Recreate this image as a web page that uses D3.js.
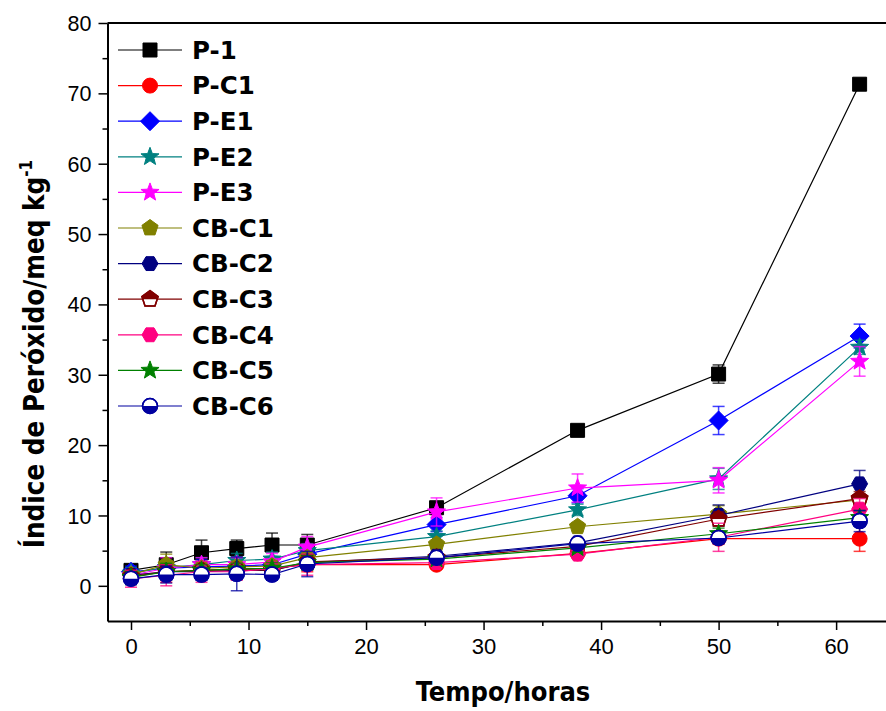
<!DOCTYPE html>
<html>
<head>
<meta charset="utf-8">
<script src="https://cdn.jsdelivr.net/npm/d3@7"></script>
<style>
  body { margin: 0; background: #fff; }
  svg { display: block; }
</style>
</head>
<body>
<div id="chart"></div>
<script>
const width = 886;
const height = 711;

// time points (hours)
const times = [0, 3, 6, 9, 12, 15, 26, 38, 50, 62];

const seriesNames = ["P-1", "P-C1", "P-E1", "P-E2", "P-E3", "CB-C1", "CB-C2", "CB-C3", "CB-C4", "CB-C5", "CB-C6"];

// peroxide index values per series
const valP1   = [2.2, 3.0, 4.7, 5.3, 5.8, 5.8, 11.1, 22.1, 30.1, 71.3];
const valPC1  = [1.5, 2.0, 2.2, 2.4, 2.5, 3.0, 3.0, 4.6, 6.7, 6.7];
const valPE1  = [2.0, 2.5, 2.7, 2.8, 3.0, 4.5, 8.7, 12.8, 23.5, 35.5];
const valPE2  = [1.8, 2.6, 3.0, 3.6, 3.8, 5.0, 7.0, 10.8, 15.2, 33.9];
const valPE3  = [1.5, 2.5, 3.0, 3.0, 3.4, 5.5, 10.5, 13.9, 15.0, 31.9];
const valCBC1 = [1.6, 3.0, 2.5, 2.7, 2.8, 4.0, 5.9, 8.4, 10.2, 12.2];
const valCBC2 = [1.5, 2.0, 2.0, 2.2, 2.2, 3.3, 4.2, 6.1, 10.0, 14.5];
const valCBC3 = [1.3, 2.0, 2.2, 2.3, 2.2, 3.4, 4.0, 5.6, 9.5, 12.4];
const valCBC4 = [1.0, 1.5, 2.0, 2.0, 2.5, 3.0, 3.3, 4.5, 6.9, 10.9];
const valCBC5 = [1.2, 2.0, 2.2, 2.4, 2.5, 3.3, 3.8, 5.4, 7.4, 9.7];
const valCBC6 = [1.0, 1.6, 1.6, 1.7, 1.6, 3.1, 4.0, 6.0, 6.8, 9.2];

// standard deviations
const errP1   = [0.8, 1.8, 1.8, 1.2, 1.7, 1.5, 0.8, 0.4, 1.3, 0.5];
const errPC1  = [1.0, 1.5, 1.2, 1.5, 0.8, 1.0, 0.5, 0.5, 0.8, 1.8];
const errPE1  = [0.8, 1.0, 1.0, 1.0, 1.0, 1.0, 1.0, 1.0, 2.0, 1.7];
const errPE2  = [0.8, 1.0, 1.0, 1.0, 1.0, 1.0, 0.8, 0.8, 1.5, 1.0];
const errPE3  = [0.8, 1.5, 1.0, 1.0, 1.2, 1.5, 2.0, 2.0, 1.8, 2.1];
const errCBC1 = [0.6, 1.5, 0.8, 0.8, 0.8, 0.8, 0.6, 0.6, 1.2, 0.8];
const errCBC2 = [0.6, 1.0, 0.8, 0.8, 0.8, 1.0, 0.6, 0.6, 1.5, 1.9];
const errCBC3 = [0.6, 1.0, 0.8, 0.8, 0.8, 1.0, 0.6, 0.6, 1.0, 1.0];
const errCBC4 = [1.2, 1.5, 1.5, 1.2, 0.8, 1.5, 0.6, 0.6, 2.0, 1.5];
const errCBC5 = [0.8, 1.2, 0.8, 0.8, 0.8, 1.0, 0.6, 0.6, 0.8, 1.0];
const errCBC6 = [0.8, 1.2, 0.8, 2.4, 0.8, 1.8, 0.6, 0.6, 0.8, 1.5];

const xTicks = [0, 10, 20, 30, 40, 50, 60];
const yTicks = [0, 10, 20, 30, 40, 50, 60, 70, 80];

const seriesValues = [valP1, valPC1, valPE1, valPE2, valPE3, valCBC1, valCBC2, valCBC3, valCBC4, valCBC5, valCBC6];
const seriesErrors = [errP1, errPC1, errPE1, errPE2, errPE3, errCBC1, errCBC2, errCBC3, errCBC4, errCBC5, errCBC6];

// style per series: colour and symbol
const styles = [
    { color: "#000000", symbol: "square" },
    { color: "#FF0000", symbol: "circle" },
    { color: "#0000FF", symbol: "diamond" },
    { color: "#008080", symbol: "star" },
    { color: "#FF00FF", symbol: "star" },
    { color: "#808000", symbol: "pentagon" },
    { color: "#000080", symbol: "hexagon" },
    { color: "#800000", symbol: "pentagon", half: "top" },
    { color: "#FF0080", symbol: "hexagon" },
    { color: "#008000", symbol: "star" },
    { color: "#0000A0", symbol: "circle", half: "bottom" }
];

const series = seriesNames.map((name, i) => ({
    name,
    ...styles[i],
    points: times.map((t, j) => ({ t, v: seriesValues[i][j], e: seriesErrors[i][j] }))
}));

const margin = { left: 107.5, top: 23, right: 889, bottom: 621 };

const x = d3.scaleLinear().domain([-2, 64.5]).range([margin.left, margin.right]);
const y = d3.scaleLinear().domain([-5, 80]).range([margin.bottom, margin.top]);

const svg = d3.select("#chart").append("svg")
    .attr("width", width)
    .attr("height", height);

// symbol paths in local coordinates
function polygon(n, r, rot) {
    const pts = d3.range(n).map(k => {
        const a = rot + k * 2 * Math.PI / n;
        return [r * Math.cos(a), r * Math.sin(a)];
    });
    return "M" + pts.map(p => p.join(",")).join("L") + "Z";
}
function star(rOut, rIn) {
    const pts = d3.range(10).map(k => {
        const a = -Math.PI / 2 + k * Math.PI / 5;
        const r = k % 2 === 0 ? rOut : rIn;
        return [r * Math.cos(a), r * Math.sin(a)];
    });
    return "M" + pts.map(p => p.join(",")).join("L") + "Z";
}
const symbolPath = {
    square: "M-7,-7L7,-7L7,7L-7,7Z",
    circle: d3.arc()({ innerRadius: 0, outerRadius: 7.5, startAngle: 0, endAngle: 2 * Math.PI }),
    diamond: "M0,-9.5L9.5,0L0,9.5L-9.5,0Z",
    star: star(9.5, 4),
    pentagon: polygon(5, 8.5, -Math.PI / 2),
    hexagon: polygon(6, 8, 0)
};

const defs = svg.append("defs");
defs.append("clipPath").attr("id", "half-top")
    .append("rect").attr("x", -12).attr("y", -12).attr("width", 24).attr("height", 12);
defs.append("clipPath").attr("id", "half-bottom")
    .append("rect").attr("x", -12).attr("y", 0).attr("width", 24).attr("height", 12);

function drawMarker(g, s) {
    const d = symbolPath[s.symbol];
    if (s.half) {
        g.append("path").attr("d", d).attr("fill", "#fff")
            .attr("stroke", s.color).attr("stroke-width", 1.5);
        g.append("path").attr("d", d).attr("fill", s.color)
            .attr("clip-path", `url(#half-${s.half})`);
        g.append("path").attr("d", d).attr("fill", "none")
            .attr("stroke", s.color).attr("stroke-width", 1.5);
    } else {
        g.append("path").attr("d", d).attr("fill", s.color)
            .attr("stroke", s.color).attr("stroke-width", 1);
    }
}

const plot = svg.append("g").attr("class", "plot");

const line = d3.line().x(d => x(d.t)).y(d => y(d.v));

// each series: line, error bars, symbols
series.forEach(s => {
    const g = plot.append("g").attr("class", "series");

    g.append("path")
        .datum(s.points)
        .attr("d", line)
        .attr("fill", "none")
        .attr("stroke", s.color)
        .attr("stroke-width", 1.2);

    const eb = g.selectAll(".err").data(s.points).enter().append("g")
        .attr("class", "err")
        .attr("stroke", s.color)
        .attr("stroke-opacity", 0.75)
        .attr("stroke-width", 1.5);
    eb.append("line")
        .attr("x1", d => x(d.t)).attr("x2", d => x(d.t))
        .attr("y1", d => y(d.v + d.e)).attr("y2", d => y(d.v - d.e));
    eb.append("line")
        .attr("x1", d => x(d.t) - 6).attr("x2", d => x(d.t) + 6)
        .attr("y1", d => y(d.v + d.e)).attr("y2", d => y(d.v + d.e));
    eb.append("line")
        .attr("x1", d => x(d.t) - 6).attr("x2", d => x(d.t) + 6)
        .attr("y1", d => y(d.v - d.e)).attr("y2", d => y(d.v - d.e));

    g.selectAll(".mk").data(s.points).enter().append("g")
        .attr("class", "mk")
        .attr("transform", d => `translate(${x(d.t)},${y(d.v)})`)
        .each(function () { drawMarker(d3.select(this), s); });
});

// frame: left and bottom axes, top border
svg.append("line")
    .attr("x1", margin.left).attr("x2", margin.right)
    .attr("y1", margin.top).attr("y2", margin.top)
    .attr("stroke", "#000").attr("stroke-width", 2);

const xAxis = svg.append("g")
    .attr("transform", `translate(0,${margin.bottom})`)
    .call(d3.axisBottom(x).tickValues(xTicks).tickSize(9).tickSizeOuter(0).tickPadding(8));
svg.append("g")
    .attr("transform", `translate(0,${margin.bottom})`)
    .call(d3.axisBottom(x).tickValues([5, 15, 25, 35, 45, 55]).tickSize(5).tickFormat("").tickSizeOuter(0))
    .call(g => g.select(".domain").remove());

const yAxis = svg.append("g")
    .attr("transform", `translate(${margin.left},0)`)
    .call(d3.axisLeft(y).tickValues(yTicks).tickSize(9).tickSizeOuter(0).tickPadding(7));
svg.append("g")
    .attr("transform", `translate(${margin.left},0)`)
    .call(d3.axisLeft(y).tickValues([5, 15, 25, 35, 45, 55, 65, 75]).tickSize(5).tickFormat("").tickSizeOuter(0))
    .call(g => g.select(".domain").remove());

svg.selectAll(".domain").attr("stroke", "#000").attr("stroke-width", 2);
svg.selectAll(".tick line").attr("stroke", "#000").attr("stroke-width", 1.5);

xAxis.selectAll("text")
    .style("font-family", "'Liberation Sans Narrow', 'Liberation Sans', Arial, sans-serif")
    .style("font-size", "22px")
    .attr("fill", "#000");
yAxis.selectAll("text")
    .style("font-family", "'Liberation Sans', Arial, sans-serif")
    .style("font-size", "21.5px")
    .attr("dy", "0.35em")
    .attr("fill", "#000");

// axis titles
svg.append("text")
    .attr("x", 503).attr("y", 701)
    .attr("text-anchor", "middle")
    .style("font-family", "'DejaVu Sans Condensed', 'DejaVu Sans', sans-serif")
    .style("font-weight", "bold")
    .style("font-size", "27px")
    .text("Tempo/horas");

const yTitle = svg.append("text")
    .attr("transform", "translate(44,354) rotate(-90)")
    .attr("text-anchor", "middle")
    .style("font-family", "'DejaVu Sans Condensed', 'DejaVu Sans', sans-serif")
    .style("font-weight", "bold")
    .style("font-size", "27.5px");
yTitle.append("tspan").text("Índice de Peróxido/meq kg");
yTitle.append("tspan").attr("dy", -12).style("font-size", "17px").text("-1");

// legend
const legend = svg.append("g").attr("class", "legend");
series.forEach((s, i) => {
    const ly = 50 + i * 35.6;
    const row = legend.append("g").attr("transform", `translate(0,${ly})`);
    row.append("line")
        .attr("x1", 118).attr("x2", 182)
        .attr("stroke", s.color).attr("stroke-width", 1.2);
    drawMarker(row.append("g").attr("transform", "translate(150,0)"), s);
    row.append("text")
        .attr("x", 192).attr("dy", "0.36em")
        .style("font-family", "'DejaVu Sans', Verdana, sans-serif")
        .style("font-weight", "bold")
        .style("font-size", "24.5px")
        .text(s.name);
});
</script>
</body>
</html>
